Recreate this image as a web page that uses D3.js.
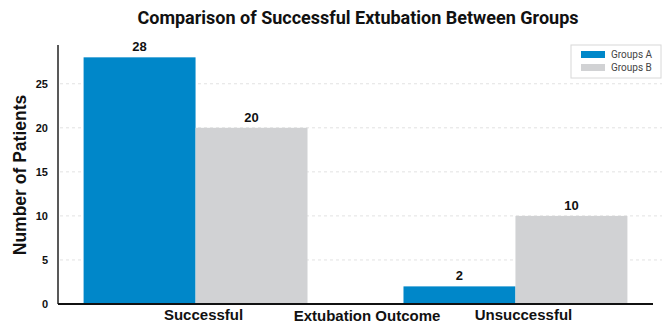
<!DOCTYPE html>
<html>
<head>
<meta charset="utf-8">
<script src="https://cdn.jsdelivr.net/npm/d3@7"></script>
<style>
  body { margin: 0; background: #fff; }
  svg { display: block; }
</style>
</head>
<body>
<svg id="chart" width="667" height="324"></svg>
<script>
var categories = ["Successful", "Unsuccessful"];
var groups = ["Groups A", "Groups B"];
var groupA = [28, 2];
var groupB = [20, 10];
var yTicks = [0, 5, 10, 15, 20, 25];
var colors = ["#0087c9", "#d1d2d4"];

var rows = categories.map(function (c, i) {
  return { cat: c, values: [groupA[i], groupB[i]] };
});

var svg = d3.select("#chart");
var plotLeft = 58, plotRight = 653, plotTop = 45, plotBottom = 304;

var x = d3.scaleBand().domain(categories).range([plotLeft, plotRight])
  .paddingInner(0.3).paddingOuter(0.08);
var x1 = d3.scaleBand().domain(groups).range([0, x.bandwidth()]);
var y = d3.scaleLinear().domain([0, 29.4]).range([plotBottom, plotTop]);

// grid
svg.append("g").selectAll("line")
  .data(yTicks.slice(1))
  .enter().append("line")
  .attr("x1", plotLeft + 2).attr("x2", 662)
  .attr("y1", function (d) { return y(d); })
  .attr("y2", function (d) { return y(d); })
  .attr("stroke", "#e2e2e2")
  .attr("stroke-dasharray", "3,3");

// bars
var g = svg.append("g").selectAll("g")
  .data(rows).enter().append("g")
  .attr("transform", function (d) { return "translate(" + x(d.cat) + ",0)"; });

g.selectAll("rect")
  .data(function (d) { return d.values.map(function (v, i) { return { g: groups[i], v: v, i: i }; }); })
  .enter().append("rect")
  .attr("x", function (d) { return x1(d.g); })
  .attr("y", function (d) { return y(d.v); })
  .attr("width", x1.bandwidth())
  .attr("height", function (d) { return plotBottom - y(d.v); })
  .attr("fill", function (d) { return colors[d.i]; });

g.selectAll("text")
  .data(function (d) { return d.values.map(function (v, i) { return { g: groups[i], v: v }; }); })
  .enter().append("text")
  .attr("x", function (d) { return x1(d.g) + x1.bandwidth() / 2; })
  .attr("y", function (d) { return y(d.v) - 6; })
  .attr("text-anchor", "middle")
  .style("font-family", "Liberation Sans, Arial, sans-serif")
  .style("font-weight", "bold")
  .style("font-size", "13px")
  .attr("fill", "#111")
  .text(function (d) { return d.v; });

// y axis
var yAxis = svg.append("g")
  .attr("transform", "translate(" + plotLeft + ",0)")
  .call(d3.axisLeft(y).tickValues(yTicks).tickSize(0).tickPadding(10));
yAxis.select(".domain").attr("d", "M0," + plotTop + "V" + plotBottom)
  .attr("stroke", "#222").attr("stroke-width", 1.5);
yAxis.selectAll("text")
  .style("font-family", "Liberation Sans, Arial, sans-serif")
  .style("font-weight", "bold")
  .style("font-size", "11px")
  .attr("fill", "#111");

// x axis
var xAxis = svg.append("g")
  .attr("transform", "translate(0," + plotBottom + ")")
  .call(d3.axisBottom(x).tickSize(0).tickPadding(5));
xAxis.select(".domain").attr("d", "M" + plotLeft + ",0H" + plotRight)
  .attr("stroke", "#111").attr("stroke-width", 2);
xAxis.selectAll("text")
  .attr("dx", 8)
  .style("font-family", "Liberation Sans, Arial, sans-serif")
  .style("font-weight", "bold")
  .style("font-size", "15px")
  .attr("fill", "#111");

svg.append("text")
  .attr("x", 367).attr("y", 321)
  .attr("text-anchor", "middle")
  .style("font-family", "Liberation Sans, Arial, sans-serif")
  .style("font-weight", "bold")
  .style("font-size", "15px")
  .attr("fill", "#111")
  .text("Extubation Outcome");

svg.append("text")
  .attr("transform", "translate(26,175) rotate(-90)")
  .attr("text-anchor", "middle")
  .style("font-family", "Liberation Sans, Arial, sans-serif")
  .style("font-weight", "bold")
  .style("font-size", "17.5px")
  .attr("fill", "#111")
  .text("Number of Patients");

// title
svg.append("text")
  .attr("x", 358).attr("y", 24)
  .attr("text-anchor", "middle")
  .style("font-family", "Roboto, sans-serif")
  .style("font-weight", "bold")
  .style("font-size", "18px")
  .attr("fill", "#111")
  .text("Comparison of Successful Extubation Between Groups");

// legend
var leg = svg.append("g").attr("transform", "translate(571,45)");
leg.append("rect").attr("width", 90).attr("height", 33)
  .attr("fill", "#fff").attr("stroke", "#d8d8d8");
leg.selectAll(".sw").data(groups).enter().append("rect")
  .attr("x", 10).attr("y", function (d, i) { return 6 + i * 13; })
  .attr("width", 24).attr("height", 7)
  .attr("fill", function (d, i) { return colors[i]; });
leg.selectAll(".lt").data(groups).enter().append("text")
  .attr("x", 40).attr("y", function (d, i) { return 13 + i * 13; })
  .style("font-family", "Roboto, sans-serif")
  .style("font-size", "10px")
  .attr("fill", "#444")
  .text(function (d) { return d; });
</script>
</body>
</html>
